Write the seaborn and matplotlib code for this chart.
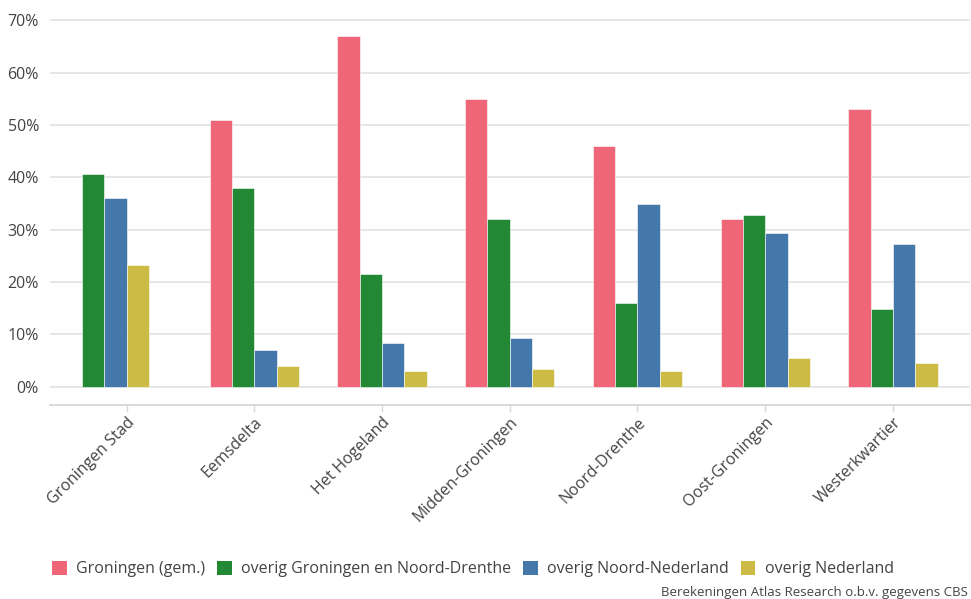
import numpy as np
import pandas as pd
import matplotlib
matplotlib.use("Agg")
import matplotlib.pyplot as plt
import seaborn as sns
from matplotlib.patches import Patch
from matplotlib.ticker import FuncFormatter

# regio's en herkomst van de werknemers (aandeel in %)
regions = ["Groningen Stad", "Eemsdelta", "Het Hogeland", "Midden-Groningen",
           "Noord-Drenthe", "Oost-Groningen", "Westerkwartier"]
series = ["Groningen (gem.)", "overig Groningen en Noord-Drenthe",
          "overig Noord-Nederland", "overig Nederland"]
gemeente = [np.nan, 51.0, 67.0, 55.0, 46.0, 32.0, 53.0]
overig_gr_dr = [40.6, 38.0, 21.5, 32.1, 16.0, 32.9, 14.9]
overig_nn = [36.0, 7.0, 8.4, 9.3, 35.0, 29.4, 27.3]
overig_nl = [23.3, 4.0, 3.0, 3.5, 3.0, 5.5, 4.6]
colors = ["#EE6677", "#228833", "#4477AA", "#CCBB44"]
caption = "Berekeningen Atlas Research o.b.v. gegevens CBS"

df = pd.DataFrame({"regio": regions,
                   series[0]: gemeente,
                   series[1]: overig_gr_dr,
                   series[2]: overig_nn,
                   series[3]: overig_nl})
long = df.melt(id_vars="regio", var_name="herkomst", value_name="aandeel").dropna()

sns.set_theme(style="white")
plt.rcParams["font.family"] = ["Open Sans", "DejaVu Sans"]

fig = plt.figure(figsize=(9.71, 5.99), dpi=100)
ax = fig.add_axes([0.0515, 0.324, 0.947, 0.651])

sns.barplot(data=long, x="regio", y="aandeel", hue="herkomst",
            order=regions, hue_order=series, palette=colors,
            width=0.7, errorbar=None, legend=False, ax=ax,
            edgecolor="white", linewidth=0.4, saturation=1)

# regio's zonder eerste reeks: balken aansluiten aan de linkerkant
missing = df[series[0]].isna().to_numpy()
for cont in ax.containers:
    for bar in cont:
        idx = int(round(bar.get_x() + bar.get_width() / 2))
        if missing[idx]:
            bar.set_x(bar.get_x() - bar.get_width())

ax.set_xlim(-0.6, 6.6)
ax.set_ylim(-3.45, 71.0)
ax.set_yticks(range(0, 71, 10))
ax.yaxis.set_major_formatter(FuncFormatter(lambda v, p: f"{v:.0f}%"))
ax.grid(axis="y", color="#e4e4e4", linewidth=1.3)
ax.set_axisbelow(True)
ax.set_xlabel("")
ax.set_ylabel("")

for s in ["top", "right", "left"]:
    ax.spines[s].set_visible(False)
ax.spines["bottom"].set_color("#d9d9d9")
ax.spines["bottom"].set_linewidth(1.4)

ax.tick_params(axis="y", length=0, pad=8, labelsize=11.5, labelcolor="#444444")
ax.tick_params(axis="x", length=5, width=1, color="#d9d9d9", pad=2,
               labelsize=11.5, labelcolor="#444444", bottom=True)
plt.setp(ax.get_xticklabels(), rotation=45, ha="right", rotation_mode="anchor")

handles = [Patch(facecolor=c, edgecolor="none", label=s) for c, s in zip(colors, series)]
fig.legend(handles=handles, loc="lower left", bbox_to_anchor=(0.039, 0.012),
           ncol=4, frameon=False, fontsize=11.5, handlelength=0.9,
           handleheight=0.9, handletextpad=0.6, columnspacing=0.75,
           labelcolor="#444444")

fig.text(0.997, 0.0, caption, ha="right", va="bottom", fontsize=9.5,
         color="#444444")

fig.savefig("out.png", dpi=100)
